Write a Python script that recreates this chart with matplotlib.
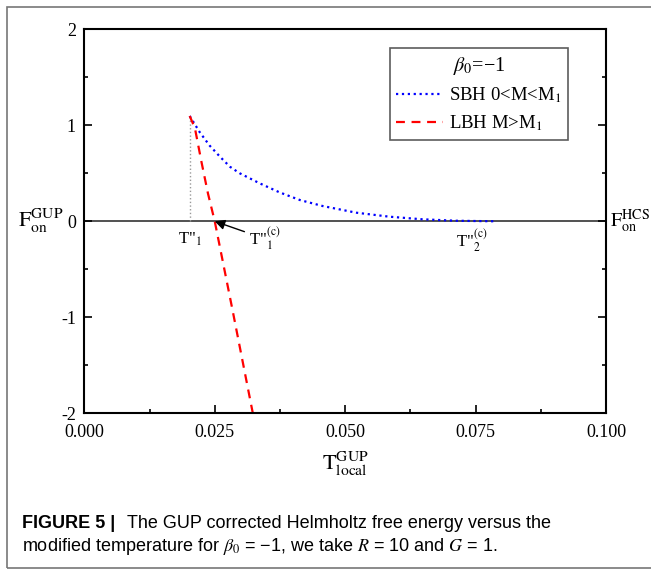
import matplotlib
matplotlib.use("Agg")
import matplotlib.pyplot as plt
from matplotlib.patches import Rectangle
from matplotlib.ticker import MultipleLocator

plt.rcParams['font.family'] = ['Liberation Serif', 'DejaVu Serif']
plt.rcParams['mathtext.fontset'] = 'stix'
plt.rcParams['axes.unicode_minus'] = False

# SBH branch (0<M<M1)
sbh_T = [0.0202, 0.0221, 0.0240, 0.0260, 0.0279, 0.0298, 0.0336, 0.0374, 0.0413,
         0.0457, 0.0521, 0.0585, 0.0648, 0.0712, 0.0789]
sbh_F = [1.097, 0.930, 0.790, 0.673, 0.569, 0.500, 0.396, 0.302, 0.222,
         0.159, 0.090, 0.048, 0.021, 0.006, 0.0]
# LBH branch (M>M1)
lbh_T = [0.0202, 0.0212, 0.02245, 0.0237, 0.0250, 0.0285, 0.0323]
lbh_F = [1.097, 0.97, 0.62, 0.29, 0.0, -0.95, -2.0]

T1 = 0.0202
F_T1 = 1.097
T1c = 0.0250
T2c = 0.0789

fig = plt.figure(figsize=(6.51, 5.69), dpi=100)
ax = fig.add_axes([0.1295, 0.2736, 0.8015, 0.6749])

ax.axhline(0, color='#333333', lw=1.2, zorder=1)
ax.plot([T1, T1], [0, F_T1], color='#999999', ls=':', lw=1.0)
ax.plot(sbh_T, sbh_F, color='#0000ff', ls=':', lw=1.6, label='SBH 0<M<M$_1$')
ax.plot(lbh_T, lbh_F, color='#ff0000', ls=(0, (4, 3)), lw=1.6, label='LBH M>M$_1$')

ax.set_xlim(0, 0.1)
ax.set_ylim(-2, 2)
ax.xaxis.set_major_locator(MultipleLocator(0.025))
ax.xaxis.set_minor_locator(MultipleLocator(0.0125))
ax.yaxis.set_major_locator(MultipleLocator(1))
ax.yaxis.set_minor_locator(MultipleLocator(0.5))
ax.xaxis.set_major_formatter(plt.FormatStrFormatter('%.3f'))
ax.yaxis.set_major_formatter(plt.FormatStrFormatter('%d'))
ax.tick_params(which='both', direction='in', right=True, top=False, labelsize=13, width=1.2)
ax.tick_params(which='major', length=6)
ax.tick_params(which='minor', length=3)
ax.tick_params(axis='x', which='major', pad=8)
ax.tick_params(axis='y', which='major', pad=6)
for s in ax.spines.values():
    s.set_linewidth(1.5)

ax.set_xlabel(r'$\mathrm{T}_{\mathrm{local}}^{\mathrm{GUP}}$', fontsize=16, labelpad=6)
fig.text(0.062, 0.611, r'$\mathrm{F}_{\mathrm{on}}^{\mathrm{GUP}}$', fontsize=16, ha='center', va='center')
fig.text(0.937, 0.611, r'$\mathrm{F}_{\mathrm{on}}^{\mathrm{HCS}}$', fontsize=14.5, ha='left', va='center')

ax.text(T1, -0.10, 'T"$_{1}$', fontsize=12, ha='center', va='top')
ax.text(T2c - 0.0046, -0.06, 'T"$^{\\mathrm{(c)}}_{2}$', fontsize=12, ha='center', va='top')
ax.annotate('T"$^{\\mathrm{(c)}}_{1}$', xy=(T1c, 0.0), xytext=(0.0345, -0.18),
            fontsize=12, ha='center', va='center',
            arrowprops=dict(arrowstyle='-|>', color='black', lw=1.0, mutation_scale=15,
                            shrinkA=1, shrinkB=0))

leg = ax.legend(loc='upper right', bbox_to_anchor=(0.927, 0.951), borderaxespad=0,
                fontsize=13.5, title=r'$\beta_0$=−1', title_fontsize=14.5, frameon=True,
                fancybox=False, edgecolor='#333333', handlelength=2.5, handletextpad=0.3,
                borderpad=0.35, labelspacing=0.45)
leg.get_frame().set_linewidth(1.2)

# caption
cap_font = ['Liberation Sans', 'DejaVu Sans']
fig.text(0.034, 0.0715, 'FIGURE 5 |', fontsize=13, fontweight='bold',
         family=cap_font, va='baseline')
fig.text(0.195, 0.0715, 'The GUP corrected Helmholtz free energy versus the',
         fontsize=13, family=cap_font, va='baseline')
fig.text(0.034, 0.0316, r'modified temperature for $\beta_0$ = −1, we take $R$ = 10 and $G$ = 1.',
         fontsize=13, family=cap_font, va='baseline')

fig.patches.append(Rectangle((7 / 651, 1.5 / 569), 1.2, 1 - 8.5 / 569, transform=fig.transFigure,
                             fill=False, edgecolor='#777777', lw=1.2))

fig.savefig('out.png', dpi=100)
